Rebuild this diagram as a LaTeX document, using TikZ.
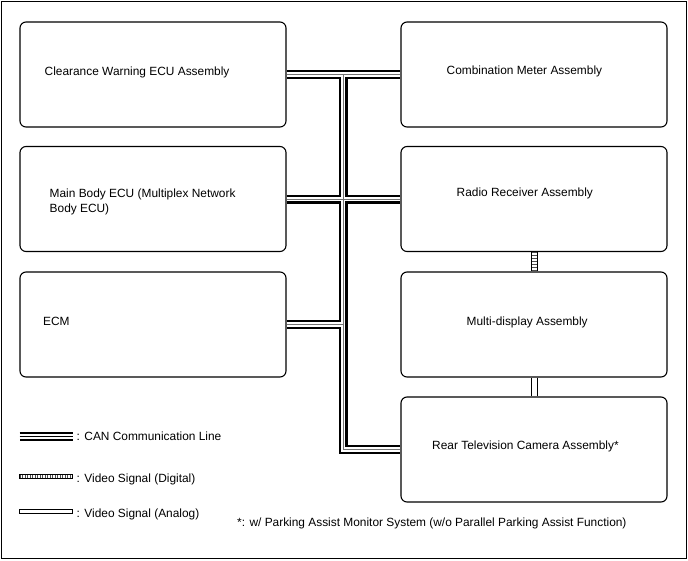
\documentclass[tikz,border=0pt]{standalone}
\usepackage{fontspec}
\setmainfont{Liberation Sans}
\begin{document}
\begin{tikzpicture}[x=1pt,y=-1pt,
  box/.style={draw,line width=1.1pt,rounded corners=6pt,minimum width=266pt,minimum height=105pt,inner sep=0pt},
  lbl/.style={anchor=base west,inner sep=0pt,font=\fontsize{11.9}{15}\selectfont,align=left},
  canout/.style={line width=9pt,black},
  canmid/.style={line width=4.6pt,white},
  cancore/.style={line width=1pt,black!55},
  digi/.style={line width=6pt,black!70,dash pattern=on 0.9pt off 2.1pt},
  side/.style={line width=0.9pt,black}]
\useasboundingbox (0,0) rectangle (688,560);
\draw[line width=1pt] (1.5,1.5) rectangle (686.5,558.5);
% boxes
\node[box] (cw) at (153,74.5) {};
\node[box] (cm) at (534,74.5) {};
\node[box] (mb) at (153,199) {};
\node[box] (rr) at (534,199) {};
\node[box] (ecm) at (153,324.5) {};
\node[box] (md) at (534,324.5) {};
\node[box] (rc) at (534,449.5) {};
% labels
\node[lbl] (tcw) at (44.5,75.7) {Clearance Warning ECU Assembly};
\node[lbl] (tcm) at (446.5,74) {Combination Meter Assembly};
\node[lbl,anchor=north west] (tmb) at (49.5,189) {Main Body ECU (Multiplex Network\\Body ECU)};
\node[lbl] (trr) at (456.5,196) {Radio Receiver Assembly};
\node[lbl] (tecm) at (43,325) {ECM};
\node[lbl] (tmd) at (466.5,325) {Multi-display Assembly};
\node[lbl] (trc) at (432,449) {Rear Television Camera Assembly*};
% bus coordinates
\coordinate (ttop) at (343,74.5);
\coordinate (tbot) at (343,449.5);
% CAN bus layers
\foreach \s in {canout,canmid,cancore}{
  \draw[\s] (cw.east) -- (cm.west);
  \draw[\s] (mb.east) -- (rr.west);
  \draw[\s] (ecm.east) -- (ecm.east -| ttop);
  \draw[\s,line join=miter] (ttop) -- (tbot) -- (rc.west);
}
% video digital
\coordinate (d1) at ([yshift=0.5pt]rr.south);
\coordinate (d2) at ([yshift=-0.5pt]md.north);
\draw[digi] (d1) -- (d2);
\draw[side] ([xshift=-3pt]rr.south) -- ([xshift=-3pt]md.north);
\draw[side] ([xshift=3pt]rr.south) -- ([xshift=3pt]md.north);
% video analog
\draw[side] ([xshift=-3pt]md.south) -- ([xshift=-3pt]rc.north);
\draw[side] ([xshift=3pt]md.south) -- ([xshift=3pt]rc.north);
% legend
\coordinate (la1) at (19.5,436.5);
\coordinate (la2) at (72.5,436.5);
\foreach \s in {canout,canmid}{\draw[\s] (la1) -- (la2);}
\draw[line width=1.2pt,black] (la1) -- (la2);
\node[lbl] (lt1) at (76.5,440.5) {: CAN Communication Line};
\coordinate (lb1) at (19.5,476.3);
\coordinate (lb2) at (72,476.3);
\draw[line width=4pt,black!70,dash pattern=on 0.9pt off 1.6pt] (lb1) -- (lb2);
\draw[line width=0.8pt] ([yshift=-2pt]lb1) rectangle ([yshift=2pt]lb2);
\node[lbl] (lt2) at (76.5,482) {: Video Signal (Digital)};
\coordinate (lc1) at (19.5,509.3);
\coordinate (lc2) at (72,513.3);
\draw[line width=0.8pt] (lc1) rectangle (lc2);
\node[lbl] (lt3) at (76.5,517) {: Video Signal (Analog)};
\node[lbl] (fn) at (237,526) {*: w/ Parking Assist Monitor System (w/o Parallel Parking Assist Function)};
\end{tikzpicture}
\end{document}
